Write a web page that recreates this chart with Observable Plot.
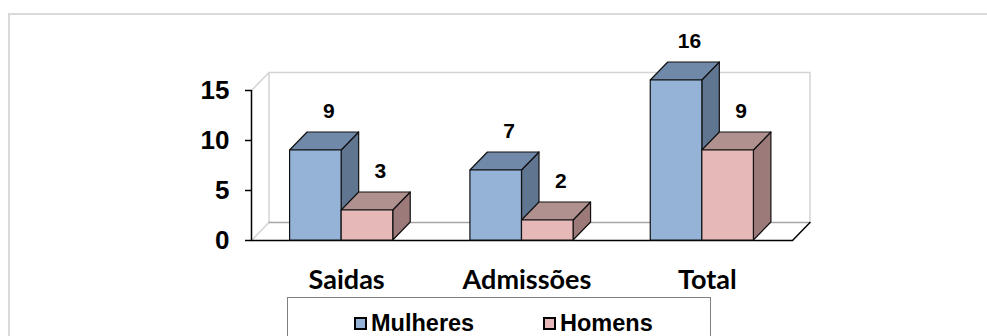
<!DOCTYPE html>
<html>
<head>
<meta charset="utf-8">
<script src="https://cdn.jsdelivr.net/npm/d3@7"></script>
<script src="https://cdn.jsdelivr.net/npm/@observablehq/plot@0.6"></script>
<style>
  html, body { margin: 0; padding: 0; background: #fff; }
  body { position: relative; width: 987px; height: 336px; overflow: hidden; font-family: "Liberation Sans", Arial, sans-serif; }
  #frame { position: absolute; left: 8px; top: 13px; width: 1100px; height: 400px; border: 2px solid #d9d9d9; box-sizing: border-box; }
  #chart { position: absolute; left: 0; top: 0; }
  #legend { position: absolute; left: 287px; top: 297px; width: 424px; height: 60px; border: 1px solid #7f7f7f; box-sizing: border-box; background: #fff; }
  #legend .key { position: absolute; top: 13px; display: flex; align-items: center; font-weight: bold; font-size: 23.5px; line-height: 24px; color: #000; white-space: nowrap; }
  #legend .key i { display: inline-block; width: 9px; height: 9px; border: 2px solid #000; margin-right: 4px; }
</style>
</head>
<body>
<div id="frame"></div>
<div id="chart"></div>
<div id="legend"></div>
<script>
// Movimentação de pessoal por sexo
const categories = ["Saidas", "Admissões", "Total"];
const series = ["Mulheres", "Homens"];
const mulheres = [9, 7, 16];
const homens = [3, 2, 9];
const yTicks = [0, 5, 10, 15];

// face colours for each series: front, top, side
const colors = {
  Mulheres: {front: "#95b3d7", top: "#7089a9", side: "#607590"},
  Homens: {front: "#e6b9b8", top: "#b09190", side: "#9b7a79"}
};

// 3D box geometry, in scale units
const BAR = 0.286;   // bar width (one category = 1)
const DX = 0.097;    // depth offset along x
const DY = 1.8;      // depth offset along y
const X0 = -0.5, X1 = 2.5, YMAX = 15;

// build the three faces of every box of one series
function boxes(name, values, side) {
  const fronts = [], tops = [], sides = [], labels = [];
  values.forEach((v, i) => {
    const x0 = side === 0 ? i - BAR : i;
    const x1 = x0 + BAR;
    const id = name + i;
    fronts.push({x1: x0, x2: x1, y1: 0, y2: v});
    tops.push(
      {id, x: x0, y1: v, y2: v},
      {id, x: x0 + DX, y1: v, y2: v + DY},
      {id, x: x1, y1: v, y2: v + DY},
      {id, x: x1 + DX, y1: v + DY, y2: v + DY}
    );
    sides.push(
      {id, x: x1, y1: 0, y2: v},
      {id, x: x1 + DX, y1: DY, y2: v + DY}
    );
    labels.push({x: (x0 + x1) / 2, y: v + DY, v});
  });
  const c = colors[name];
  const edge = {stroke: "#111", strokeWidth: 1.2, strokeLinejoin: "round"};
  return [
    Plot.areaY(sides, {x: "x", y1: "y1", y2: "y2", z: "id", fill: c.side, ...edge}),
    Plot.areaY(tops, {x: "x", y1: "y1", y2: "y2", z: "id", fill: c.top, ...edge}),
    Plot.rect(fronts, {x1: "x1", x2: "x2", y1: "y1", y2: "y2", fill: c.front, ...edge}),
    Plot.text(labels, {x: "x", y: "y", text: "v", dx: 13, dy: -21, fontSize: 21, fontWeight: "bold", fill: "#000"})
  ];
}

// walls and floor of the plot area
const wall = [
  {x: X0 + DX, y: DY}, {x: X0 + DX, y: YMAX + DY}, {x: X1 + DX, y: YMAX + DY}, {x: X1 + DX, y: DY}
];
const lightEdges = [
  {s: "a", x: X0, y: YMAX}, {s: "a", x: X0 + DX, y: YMAX + DY},
  {s: "b", x: X0, y: 0}, {s: "b", x: X0 + DX, y: DY}
];
const floorBack = [{x: X0 + DX, y: DY}, {x: X1 + DX, y: DY}];
const floorFront = [{x: X0, y: 0}, {x: X1, y: 0}, {x: X1 + DX, y: DY}];
const axisLine = [{x: X0, y: 0}, {x: X0, y: YMAX}];

const plot = Plot.plot({
  width: 987,
  height: 296,
  marginLeft: 251,
  marginRight: 195,
  marginTop: 90,
  marginBottom: 56,
  style: {fontFamily: "'Liberation Sans', Arial, sans-serif", background: "transparent", color: "#000"},
  x: {type: "linear", domain: [X0, X1]},
  y: {domain: [0, YMAX]},
  marks: [
    Plot.areaY(wall, {x: "x", y1: 0 + DY, y2: "y", fill: "#fff"}),
    Plot.line(wall, {x: "x", y: "y", stroke: "#d4d4d4", strokeWidth: 1.5}),
    Plot.line(lightEdges, {x: "x", y: "y", z: "s", stroke: "#d4d4d4", strokeWidth: 1.5}),
    Plot.line(floorBack, {x: "x", y: "y", stroke: "#a6a6a6", strokeWidth: 1.5}),
    Plot.line(floorFront, {x: "x", y: "y", stroke: "#000", strokeWidth: 1.5}),
    Plot.line(axisLine, {x: "x", y: "y", stroke: "#000", strokeWidth: 1.5}),
    Plot.axisY({ticks: yTicks, tickSize: 6, tickPadding: 16, fontSize: 26, fontWeight: "bold", label: null, strokeWidth: 1.5}),
    Plot.axisX({ticks: [0, 1, 2], tickFormat: i => categories[i], tickSize: 0, tickPadding: 29, fontSize: 27,
      fontWeight: "bold", fontFamily: "Lato", label: null, dx: 5}),
    ...boxes(series[0], mulheres, 0),
    ...boxes(series[1], homens, 1)
  ]
});
document.getElementById("chart").append(plot);

// legend below the chart
const legend = d3.select("#legend");
series.forEach((name, k) => {
  const key = legend.append("span").attr("class", "key").style("left", (k === 0 ? 66 : 255) + "px");
  key.append("i").style("background", colors[name].front);
  key.append("span").text(name);
});
</script>
</body>
</html>
